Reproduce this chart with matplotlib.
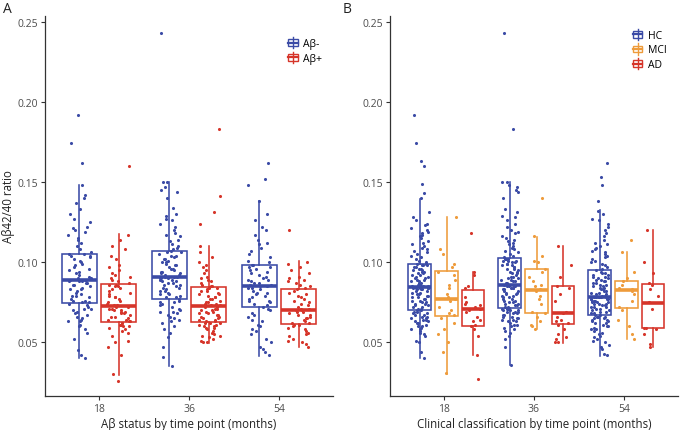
import numpy as np
import matplotlib
matplotlib.use("Agg")
import matplotlib.pyplot as plt
from matplotlib.lines import Line2D
from matplotlib.patches import Rectangle
from matplotlib.legend_handler import HandlerBase

plt.rcParams['font.family'] = ['Open Sans', 'DejaVu Sans']

# ---------------- data ----------------
timepoints = ['18', '36', '54']

# panel A: Abeta status
a_groups = ['Aβ-', 'Aβ+']
a_neg_18 = [0.040, 0.042, 0.045, 0.052, 0.056, 0.058, 0.060, 0.061, 0.063, 0.063, 0.064, 0.065, 0.066, 0.067, 0.068, 0.069, 0.070, 0.071, 0.071, 0.072, 0.073, 0.074,
            0.075, 0.075, 0.076, 0.076, 0.077, 0.078, 0.079, 0.079, 0.080, 0.081, 0.082, 0.083, 0.083, 0.084, 0.085, 0.086, 0.086, 0.087, 0.087, 0.088, 0.088, 0.088,
            0.089, 0.089, 0.089, 0.090, 0.090, 0.091, 0.092, 0.093, 0.094, 0.095, 0.096, 0.097, 0.098, 0.099, 0.100, 0.101, 0.102, 0.103, 0.104, 0.104, 0.105, 0.105,
            0.106, 0.108, 0.110, 0.112, 0.114, 0.115, 0.117, 0.119, 0.120, 0.121, 0.122, 0.125, 0.127, 0.130, 0.133, 0.137, 0.140, 0.142, 0.148, 0.162, 0.174, 0.192]
a_pos_18 = [0.026, 0.030, 0.042, 0.047, 0.050, 0.051, 0.054, 0.056, 0.057, 0.058, 0.059, 0.060, 0.060, 0.061, 0.061, 0.062, 0.062,
            0.063, 0.063, 0.064, 0.064, 0.065, 0.066, 0.066, 0.067, 0.068, 0.068, 0.069, 0.069, 0.070, 0.070, 0.071, 0.071, 0.072, 0.072,
            0.073, 0.073, 0.074, 0.075, 0.076, 0.077, 0.078, 0.078, 0.079, 0.080, 0.081, 0.082, 0.083, 0.084, 0.085, 0.085, 0.086, 0.086,
            0.087, 0.088, 0.089, 0.090, 0.091, 0.092, 0.093, 0.095, 0.097, 0.098, 0.102, 0.104, 0.108, 0.110, 0.114, 0.117, 0.160]
a_neg_36 = [0.035, 0.041, 0.047, 0.053, 0.056, 0.058, 0.060, 0.062, 0.063, 0.064, 0.065, 0.066, 0.067, 0.068, 0.069, 0.069, 0.070, 0.071, 0.072, 0.073, 0.074, 0.075, 0.075, 0.076, 0.077,
            0.078, 0.078, 0.079, 0.080, 0.080, 0.081, 0.082, 0.082, 0.083, 0.084, 0.084, 0.085, 0.086, 0.086, 0.087, 0.087, 0.088, 0.088, 0.089, 0.089, 0.090, 0.090, 0.090, 0.091, 0.091,
            0.091, 0.092, 0.092, 0.093, 0.093, 0.094, 0.094, 0.095, 0.096, 0.096, 0.097, 0.098, 0.098, 0.099, 0.100, 0.100, 0.101, 0.102, 0.102, 0.103, 0.104, 0.104, 0.105, 0.106, 0.106,
            0.107, 0.108, 0.109, 0.110, 0.111, 0.113, 0.114, 0.116, 0.117, 0.118, 0.120, 0.122, 0.124, 0.126, 0.127, 0.129, 0.130, 0.134, 0.140, 0.144, 0.145, 0.147, 0.150, 0.150, 0.243]
a_pos_36 = [0.050, 0.050, 0.051, 0.052, 0.053, 0.054, 0.054, 0.055, 0.056, 0.057, 0.058, 0.059, 0.059, 0.060, 0.060, 0.061, 0.061, 0.062, 0.062, 0.062,
            0.063, 0.063, 0.064, 0.064, 0.065, 0.065, 0.066, 0.066, 0.067, 0.067, 0.068, 0.068, 0.069, 0.069, 0.070, 0.070, 0.071, 0.071, 0.072, 0.072,
            0.073, 0.073, 0.074, 0.074, 0.075, 0.075, 0.076, 0.077, 0.077, 0.078, 0.078, 0.079, 0.080, 0.080, 0.081, 0.082, 0.082, 0.083, 0.084, 0.084,
            0.085, 0.085, 0.086, 0.087, 0.088, 0.089, 0.090, 0.091, 0.093, 0.095, 0.097, 0.098, 0.100, 0.103, 0.106, 0.110, 0.124, 0.131, 0.141, 0.183]
a_neg_54 = [0.042, 0.044, 0.046, 0.047, 0.050, 0.052, 0.055, 0.057, 0.058, 0.060, 0.061, 0.063, 0.064, 0.066, 0.067, 0.068, 0.070, 0.071,
            0.072, 0.073, 0.074, 0.075, 0.076, 0.076, 0.077, 0.078, 0.079, 0.080, 0.081, 0.081, 0.082, 0.083, 0.084, 0.084, 0.085, 0.085,
            0.086, 0.086, 0.087, 0.087, 0.088, 0.089, 0.089, 0.090, 0.091, 0.092, 0.093, 0.094, 0.095, 0.096, 0.097, 0.097, 0.098, 0.098,
            0.100, 0.101, 0.103, 0.105, 0.107, 0.109, 0.111, 0.112, 0.114, 0.117, 0.120, 0.122, 0.126, 0.130, 0.138, 0.148, 0.152, 0.162]
a_pos_54 = [0.047, 0.049, 0.050, 0.051, 0.052, 0.054, 0.055, 0.056, 0.057, 0.058, 0.059, 0.060, 0.061, 0.061,
            0.062, 0.062, 0.063, 0.064, 0.065, 0.065, 0.066, 0.067, 0.067, 0.068, 0.069, 0.069, 0.070, 0.070,
            0.071, 0.071, 0.072, 0.073, 0.074, 0.075, 0.076, 0.077, 0.078, 0.079, 0.080, 0.081, 0.082, 0.083,
            0.084, 0.085, 0.086, 0.087, 0.088, 0.089, 0.090, 0.091, 0.093, 0.095, 0.097, 0.099, 0.100, 0.120]
a_points = [[a_neg_18, a_pos_18], [a_neg_36, a_pos_36], [a_neg_54, a_pos_54]]

# box stats: [timepoint][group]
a_q1 = [[0.0742, 0.0627], [0.0773, 0.0629], [0.0719, 0.0615]]
a_med = [[0.0886, 0.0725], [0.0910, 0.0725], [0.0854, 0.0704]]
a_q3 = [[0.1048, 0.0865], [0.1068, 0.0846], [0.0985, 0.0834]]
a_lo = [[0.0403, 0.0298], [0.0350, 0.0496], [0.0417, 0.0471]]
a_hi = [[0.1480, 0.1173], [0.1500, 0.1100], [0.1380, 0.1004]]

# panel B: clinical classification
b_groups = ['HC', 'MCI', 'AD']
b_hc_18 = [0.040, 0.044, 0.050, 0.051, 0.054, 0.055, 0.056, 0.057, 0.058, 0.058, 0.059, 0.060, 0.060, 0.061, 0.062, 0.062, 0.063, 0.063, 0.064, 0.064, 0.065, 0.065, 0.066, 0.066, 0.067, 0.067, 0.068, 0.068, 0.069, 0.069, 0.070, 0.070,
           0.071, 0.071, 0.072, 0.072, 0.073, 0.073, 0.074, 0.074, 0.075, 0.075, 0.076, 0.076, 0.077, 0.077, 0.078, 0.078, 0.079, 0.079, 0.080, 0.080, 0.081, 0.081, 0.082, 0.082, 0.083, 0.083, 0.083, 0.084, 0.084, 0.084, 0.084, 0.084,
           0.085, 0.085, 0.085, 0.086, 0.086, 0.087, 0.087, 0.088, 0.088, 0.089, 0.089, 0.090, 0.090, 0.091, 0.091, 0.092, 0.092, 0.093, 0.093, 0.094, 0.094, 0.095, 0.095, 0.096, 0.096, 0.097, 0.097, 0.098, 0.098, 0.098, 0.099, 0.099,
           0.100, 0.101, 0.102, 0.103, 0.104, 0.105, 0.106, 0.107, 0.108, 0.109, 0.110, 0.111, 0.112, 0.113, 0.115, 0.116, 0.117, 0.118, 0.119, 0.120, 0.121, 0.123, 0.124, 0.126, 0.128, 0.131, 0.140, 0.143, 0.149, 0.160, 0.163, 0.174, 0.192]
b_mci_18 = [0.031, 0.044, 0.050, 0.055, 0.058, 0.062, 0.065, 0.067, 0.068, 0.070, 0.072, 0.076, 0.077, 0.078, 0.080, 0.084, 0.086, 0.089, 0.092, 0.094, 0.097, 0.099, 0.105, 0.108, 0.128]
b_ad_18 = [0.027, 0.042, 0.054, 0.058, 0.060, 0.061, 0.063, 0.064, 0.066, 0.069, 0.070, 0.071, 0.072, 0.073, 0.074, 0.075, 0.078, 0.084, 0.085, 0.092, 0.094, 0.118]
b_hc_36 = [0.036, 0.047, 0.052, 0.054, 0.056, 0.057, 0.058, 0.059, 0.060, 0.061, 0.061, 0.062, 0.063, 0.063, 0.064, 0.064, 0.065, 0.065, 0.066, 0.066, 0.067, 0.067, 0.068, 0.068, 0.069, 0.069, 0.069, 0.070, 0.070, 0.070, 0.071, 0.071, 0.071,
           0.072, 0.072, 0.073, 0.073, 0.074, 0.074, 0.075, 0.075, 0.076, 0.076, 0.077, 0.077, 0.078, 0.078, 0.079, 0.079, 0.080, 0.080, 0.081, 0.081, 0.082, 0.082, 0.083, 0.083, 0.084, 0.084, 0.084, 0.085, 0.085, 0.085, 0.085, 0.086, 0.086,
           0.086, 0.087, 0.087, 0.088, 0.088, 0.089, 0.089, 0.090, 0.090, 0.091, 0.091, 0.092, 0.093, 0.093, 0.094, 0.094, 0.095, 0.096, 0.096, 0.097, 0.097, 0.098, 0.098, 0.099, 0.099, 0.100, 0.100, 0.101, 0.101, 0.101, 0.102, 0.102, 0.102,
           0.103, 0.104, 0.105, 0.106, 0.107, 0.108, 0.109, 0.110, 0.111, 0.112, 0.113, 0.114, 0.115, 0.116, 0.118, 0.119, 0.120, 0.122, 0.124, 0.126, 0.128, 0.129, 0.131, 0.133, 0.140, 0.144, 0.145, 0.147, 0.148, 0.150, 0.150, 0.183, 0.243]
b_mci_36 = [0.058, 0.060, 0.061, 0.063, 0.066, 0.068, 0.069, 0.074, 0.077, 0.079, 0.082, 0.083, 0.085, 0.086, 0.088, 0.091, 0.094, 0.096, 0.100, 0.101, 0.104, 0.116, 0.140]
b_ad_36 = [0.050, 0.050, 0.052, 0.053, 0.055, 0.058, 0.061, 0.062, 0.063, 0.064, 0.066, 0.068, 0.069, 0.076, 0.080, 0.084, 0.085, 0.091, 0.098, 0.110]
b_hc_54 = [0.042, 0.043, 0.046, 0.047, 0.048, 0.050, 0.051, 0.052, 0.053, 0.054, 0.055, 0.056, 0.057, 0.058, 0.058, 0.059, 0.060, 0.060, 0.061, 0.062, 0.062, 0.063, 0.063, 0.064, 0.064, 0.065, 0.065, 0.066, 0.066, 0.066, 0.067, 0.067,
           0.068, 0.068, 0.069, 0.069, 0.070, 0.070, 0.071, 0.071, 0.072, 0.072, 0.072, 0.073, 0.073, 0.074, 0.074, 0.074, 0.075, 0.075, 0.075, 0.076, 0.076, 0.076, 0.077, 0.077, 0.077, 0.077, 0.078, 0.078, 0.078, 0.078, 0.078, 0.078,
           0.079, 0.079, 0.080, 0.080, 0.081, 0.081, 0.082, 0.082, 0.083, 0.083, 0.084, 0.084, 0.085, 0.085, 0.086, 0.086, 0.087, 0.087, 0.088, 0.088, 0.089, 0.089, 0.090, 0.090, 0.091, 0.091, 0.092, 0.092, 0.093, 0.093, 0.094, 0.095,
           0.096, 0.097, 0.098, 0.099, 0.100, 0.101, 0.102, 0.103, 0.104, 0.105, 0.106, 0.107, 0.108, 0.109, 0.110, 0.111, 0.112, 0.114, 0.116, 0.118, 0.120, 0.122, 0.124, 0.126, 0.127, 0.130, 0.132, 0.138, 0.148, 0.153, 0.162]
b_mci_54 = [0.052, 0.055, 0.060, 0.064, 0.070, 0.072, 0.076, 0.080, 0.082, 0.083, 0.084, 0.086, 0.088, 0.090, 0.094, 0.106, 0.114]
b_ad_54 = [0.047, 0.049, 0.055, 0.058, 0.059, 0.059, 0.071, 0.075, 0.079, 0.083, 0.086, 0.087, 0.093, 0.100, 0.120]
b_points = [[b_hc_18, b_mci_18, b_ad_18], [b_hc_36, b_mci_36, b_ad_36], [b_hc_54, b_mci_54, b_ad_54]]

b_q1 = [[0.0704, 0.0667, 0.0604], [0.0715, 0.0684, 0.0617], [0.0673, 0.0715, 0.0586]]
b_med = [[0.0844, 0.0769, 0.0710], [0.0856, 0.0825, 0.0684], [0.0784, 0.0823, 0.0748]]
b_q3 = [[0.0990, 0.0942, 0.0829], [0.1023, 0.0958, 0.0850], [0.0950, 0.0883, 0.0862]]
b_lo = [[0.0403, 0.0304, 0.0423], [0.0356, 0.0580, 0.0496], [0.0417, 0.0523, 0.0471]]
b_hi = [[0.1396, 0.1283, 0.0937], [0.1500, 0.1158, 0.1102], [0.1323, 0.1065, 0.1202]]

blue = '#3B4BA6'
red = '#D6352A'
orange = '#EE9B3B'
dark = '#333333'


class BoxKey(HandlerBase):
    def create_artists(self, legend, orig_handle, xdescent, ydescent,
                       width, height, fontsize, trans):
        c = orig_handle.get_color()
        cx = width / 2 - xdescent
        bw = width * 0.85
        bh = height * 0.6
        by = (height - bh) / 2 - ydescent
        rect = Rectangle((cx - bw / 2, by), bw, bh, facecolor='none',
                         edgecolor=c, lw=1.0, transform=trans)
        wh = Line2D([cx, cx], [-ydescent, height - ydescent], color=c, lw=1.0, transform=trans)
        md = Line2D([cx - bw / 2, cx + bw / 2], [height / 2 - ydescent] * 2, color=c, lw=1.6, transform=trans)
        return [wh, rect, md]


def jitter(n, seed_shift, width):
    # deterministic scatter of x offsets (hash of the index), in [-width, width]
    k = np.arange(n) + 1 + seed_shift * 97
    frac = (np.sin(k * 12.9898 + 78.233) * 43758.5453) % 1
    return (frac - 0.5) * 2 * width


def draw_panel(ax, points, q1, med, q3, lo, hi, colors, offsets, box_w, jit_w):
    for t in range(len(timepoints)):
        for g in range(len(colors)):
            pos = t + 1 + offsets[g]
            st = [dict(med=med[t][g], q1=q1[t][g], q3=q3[t][g],
                       whislo=lo[t][g], whishi=hi[t][g], fliers=[])]
            ax.bxp(st, positions=[pos], widths=box_w, showfliers=False,
                   showcaps=False, patch_artist=True,
                   boxprops=dict(facecolor='none', edgecolor=colors[g], lw=1.15),
                   whiskerprops=dict(color=colors[g], lw=1.15),
                   medianprops=dict(color=colors[g], lw=2.6, solid_capstyle='butt'),
                   zorder=2)
            vals = np.array(points[t][g])
            jit = jitter(len(vals), t * 3 + g, jit_w)
            ax.scatter(pos + jit, vals, s=5, color=colors[g], linewidths=0, zorder=3)
    ax.set_xlim(0.4, 3.6)
    ax.set_ylim(0.0165, 0.2535)
    ax.set_xticks([1, 2, 3])
    ax.set_xticklabels(timepoints)
    ax.set_yticks([0.05, 0.10, 0.15, 0.20, 0.25])
    ax.set_yticklabels(['0.05', '0.10', '0.15', '0.20', '0.25'])
    for s in ['top', 'right']:
        ax.spines[s].set_visible(False)
    for s in ['left', 'bottom']:
        ax.spines[s].set_color(dark)
        ax.spines[s].set_linewidth(0.9)
    ax.tick_params(axis='both', colors=dark, labelcolor='#4D4D4D', labelsize=7.5,
                   length=3, width=0.8, pad=2)


fig = plt.figure(figsize=(6.8, 4.31), dpi=100)
axA = fig.add_axes([0.0662, 0.0789, 0.4235, 0.8817])
axB = fig.add_axes([0.5735, 0.0789, 0.4235, 0.8817])

draw_panel(axA, a_points, a_q1, a_med, a_q3, a_lo, a_hi, [blue, red],
           [-0.22, 0.22], 0.39, 0.13)
draw_panel(axB, b_points, b_q1, b_med, b_q3, b_lo, b_hi, [blue, orange, red],
           [-0.27, 0.03, 0.32], 0.25, 0.10)

fig.text(0.278, 0.016, 'Aβ status by time point (months)', fontsize=8.3,
         color='#222222', ha='center', va='center')
fig.text(0.785, 0.016, 'Clinical classification by time point (months)', fontsize=8.3,
         color='#222222', ha='center', va='center')
fig.text(0.013, 0.52, 'Aβ42/40 ratio', fontsize=8.3, color='#222222',
         rotation=90, ha='center', va='center')

fig.text(0.004, 0.995, 'A', fontsize=10, va='top', ha='left', color='#222222')
fig.text(0.504, 0.995, 'B', fontsize=10, va='top', ha='left', color='#222222')

hA = [Line2D([], [], color=c) for c in [blue, red]]
axA.legend(hA, a_groups, handler_map={Line2D: BoxKey()}, loc='upper left',
           bbox_to_anchor=(0.84, 0.945), frameon=False, fontsize=7.5,
           handlelength=1.1, handleheight=1.3, handletextpad=0.4,
           labelspacing=0.25, borderaxespad=0, borderpad=0)
hB = [Line2D([], [], color=c) for c in [blue, orange, red]]
axB.legend(hB, b_groups, handler_map={Line2D: BoxKey()}, loc='upper left',
           bbox_to_anchor=(0.84, 0.967), frameon=False, fontsize=7.5,
           handlelength=1.1, handleheight=1.3, handletextpad=0.4,
           labelspacing=0.25, borderaxespad=0, borderpad=0)

fig.savefig('out.png', dpi=100)
